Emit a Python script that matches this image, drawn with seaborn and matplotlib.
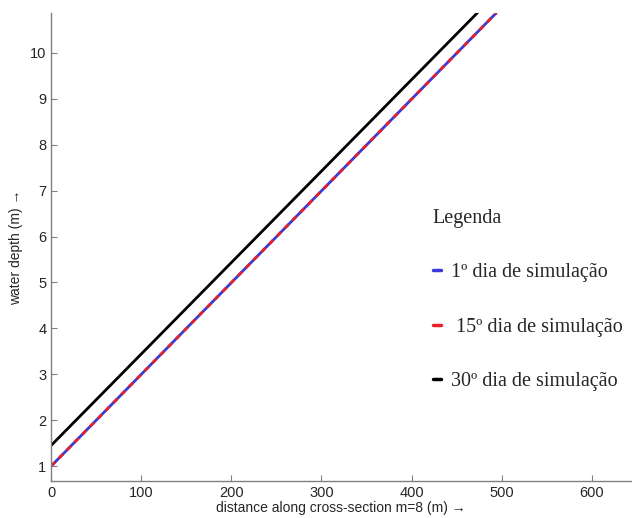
import pandas as pd
import matplotlib
matplotlib.use('Agg')
import matplotlib.pyplot as plt
import seaborn as sns
from matplotlib.lines import Line2D

# line end points
dist_day1 = [0, 494]
depth_day1 = [1.0, 10.87]
dist_day15 = [0, 494]
depth_day15 = [1.0, 10.87]
dist_day30 = [0, 473]
depth_day30 = [1.45, 10.87]

labels = ['1º dia de simulação', ' 15º dia de simulação', '30º dia de simulação']
xticks = [0, 100, 200, 300, 400, 500, 600]
yticks = [1, 2, 3, 4, 5, 6, 7, 8, 9, 10]

sns.set_style('white')
plt.rcParams['font.family'] = ['Liberation Sans', 'DejaVu Sans']

df1 = pd.DataFrame({'x': dist_day1, 'y': depth_day1})
df15 = pd.DataFrame({'x': dist_day15, 'y': depth_day15})
df30 = pd.DataFrame({'x': dist_day30, 'y': depth_day30})

fig = plt.figure(figsize=(6.32, 5.18), dpi=100)
ax = fig.add_axes([0.081, 0.071, 0.918, 0.904])

sns.lineplot(data=df30, x='x', y='y', color='black', linewidth=2, ax=ax)
sns.lineplot(data=df1, x='x', y='y', color='#3a3ad8', linewidth=2, ax=ax)
sns.lineplot(data=df15, x='x', y='y', color='#e8202a', linewidth=2, ax=ax,
             linestyle=(0, (2, 2)))

ax.set_xlim(0, 644)
ax.set_ylim(0.67, 10.87)
ax.set_xticks(xticks)
ax.set_yticks(yticks)
ax.tick_params(direction='in', length=4, color='#808080', labelsize=10.5,
               left=True, bottom=True)
for s in ['top', 'right']:
    ax.spines[s].set_visible(False)
for s in ['left', 'bottom']:
    ax.spines[s].set_color('#808080')
    ax.spines[s].set_linewidth(1)

ax.set_xlabel('distance along cross-section m=8 (m) →', fontsize=10, labelpad=1)
ax.set_ylabel('water depth (m) →', fontsize=10, labelpad=5)

handles = [Line2D([], [], color='#3a3ad8', linewidth=2.5),
           Line2D([], [], color='#e8202a', linewidth=2.5),
           Line2D([], [], color='black', linewidth=2.5)]
leg = ax.legend(handles, labels, title='Legenda', loc='upper left',
                bbox_to_anchor=(0.626, 0.62), frameon=False,
                handlelength=0.4, handletextpad=0.5, labelspacing=1.75,
                prop={'family': 'Liberation Serif', 'size': 14.5},
                title_fontproperties={'family': 'Liberation Serif', 'size': 14.5})
leg._legend_box.align = 'left'

fig.savefig('out.png', dpi=100)
